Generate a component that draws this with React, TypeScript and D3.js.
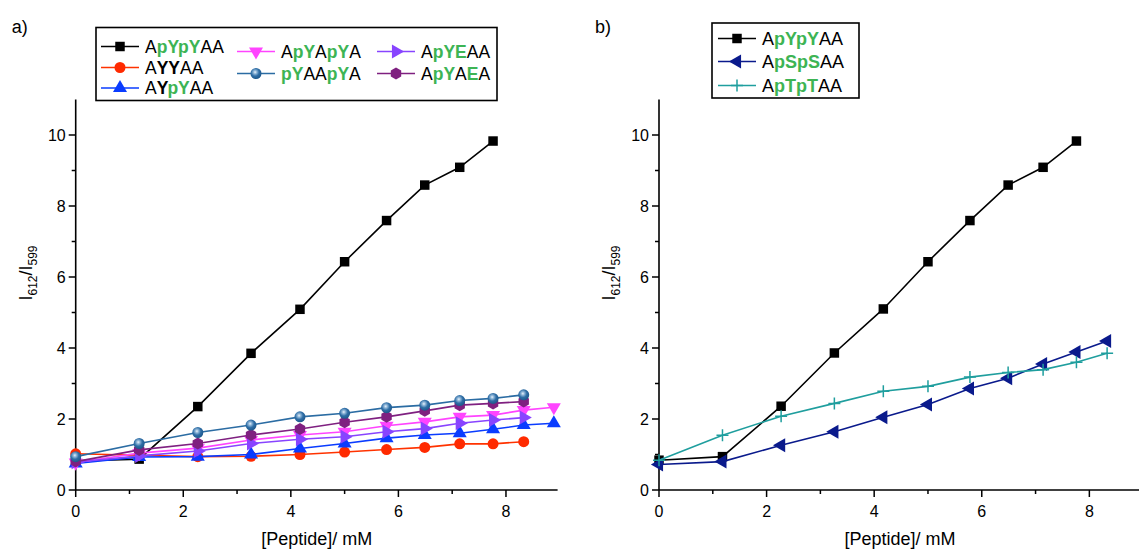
import React from "react";
import * as d3 from "d3";

// ---------- DATA ----------
const X_CONC = [0, 1.18, 2.27, 3.26, 4.17, 5.0, 5.78, 6.49, 7.14, 7.76, 8.33, 8.89];
const X_TICKS = [0, 2, 4, 6, 8];
const Y_TICKS = [0, 2, 4, 6, 8, 10];

const A_APYPYAA = [0.82, 0.87, 2.35, 3.85, 5.09, 6.43, 7.59, 8.59, 9.09, 9.83];
const A_AYYAA = [1.02, 0.98, 0.94, 0.95, 1.0, 1.07, 1.14, 1.2, 1.3, 1.3, 1.36];
const A_AYPYAA = [0.75, 0.93, 0.94, 1.0, 1.17, 1.31, 1.46, 1.55, 1.6, 1.71, 1.83, 1.88];
const A_APYAPYA = [0.77, 1.04, 1.18, 1.41, 1.55, 1.64, 1.81, 1.92, 2.06, 2.11, 2.25, 2.33];
const A_PYAAPYA = [0.94, 1.31, 1.62, 1.83, 2.06, 2.16, 2.32, 2.39, 2.52, 2.58, 2.68];
const A_APYEAA = [0.78, 0.96, 1.1, 1.31, 1.43, 1.5, 1.64, 1.73, 1.88, 1.97, 2.04];
const A_APYAEA = [0.8, 1.13, 1.31, 1.55, 1.72, 1.91, 2.06, 2.23, 2.39, 2.44, 2.49];

const B_APYPYAA = [0.84, 0.94, 2.36, 3.86, 5.1, 6.43, 7.59, 8.59, 9.09, 9.83];
const B_APSPSAA = [0.72, 0.8, 1.26, 1.64, 2.05, 2.41, 2.86, 3.15, 3.55, 3.89, 4.2];
const B_APTPTAA = [0.84, 1.54, 2.08, 2.44, 2.78, 2.92, 3.18, 3.31, 3.39, 3.6, 3.85];

// Label segments: [text, style] style: n normal, b bold black, g bold green
type Seg = [string, "n" | "b" | "g"];
const LBL_APYPYAA: Seg[] = [["A", "n"], ["pYpY", "g"], ["AA", "n"]];
const LBL_AYYAA: Seg[] = [["A", "n"], ["YY", "b"], ["AA", "n"]];
const LBL_AYPYAA: Seg[] = [["A", "n"], ["Y", "b"], ["pY", "g"], ["AA", "n"]];
const LBL_APYAPYA: Seg[] = [["A", "n"], ["pY", "g"], ["A", "n"], ["pY", "g"], ["A", "n"]];
const LBL_PYAAPYA: Seg[] = [["pY", "g"], ["AA", "n"], ["pY", "g"], ["A", "n"]];
const LBL_APYEAA: Seg[] = [["A", "n"], ["pYE", "g"], ["AA", "n"]];
const LBL_APYAEA: Seg[] = [["A", "n"], ["pY", "g"], ["A", "n"], ["E", "g"], ["A", "n"]];
const LBL_APSPSAA: Seg[] = [["A", "n"], ["pSpS", "g"], ["AA", "n"]];
const LBL_APTPTAA: Seg[] = [["A", "n"], ["pTpT", "g"], ["AA", "n"]];

const GREEN = "#3db454";
const FONT = "'Liberation Sans', Arial, sans-serif";

type Shape = "square" | "circle" | "up" | "down" | "right" | "left" | "hex" | "plus" | "ball";

interface Series {
  values: number[];
  color: string;
  fill: string;
  shape: Shape;
  label: Seg[];
}

const SERIES_A: Series[] = [
  { values: A_APYPYAA, color: "#000000", fill: "#000000", shape: "square", label: LBL_APYPYAA },
  { values: A_AYYAA, color: "#ff3300", fill: "#ff2a00", shape: "circle", label: LBL_AYYAA },
  { values: A_AYPYAA, color: "#0a3cff", fill: "#0a3cff", shape: "up", label: LBL_AYPYAA },
  { values: A_APYAPYA, color: "#ff44ff", fill: "#ff44ff", shape: "down", label: LBL_APYAPYA },
  { values: A_APYEAA, color: "#8844ff", fill: "#8844ff", shape: "right", label: LBL_APYEAA },
  { values: A_APYAEA, color: "#7f2080", fill: "#7f2080", shape: "hex", label: LBL_APYAEA },
  { values: A_PYAAPYA, color: "#2b6ca3", fill: "url(#ball)", shape: "ball", label: LBL_PYAAPYA },
];

const SERIES_B: Series[] = [
  { values: B_APYPYAA, color: "#000000", fill: "#000000", shape: "square", label: LBL_APYPYAA },
  { values: B_APSPSAA, color: "#0a1a8c", fill: "#0a1a8c", shape: "left", label: LBL_APSPSAA },
  { values: B_APTPTAA, color: "#1f9e9e", fill: "none", shape: "plus", label: LBL_APTPTAA },
];

function markerPath(shape: Shape): string {
  switch (shape) {
    case "square":
      return d3.symbol(d3.symbolSquare, 90)()!;
    case "circle":
    case "ball":
      return d3.symbol(d3.symbolCircle, 95)()!;
    case "up":
    case "down":
    case "right":
    case "left":
      return d3.symbol(d3.symbolTriangle, 85)()!;
    case "hex": {
      const r = 6;
      const pts = d3.range(6).map((i) => {
        const a = (Math.PI / 3) * i + Math.PI / 6;
        return [r * Math.cos(a), r * Math.sin(a)];
      });
      return "M" + pts.map((p) => p.join(",")).join("L") + "Z";
    }
    case "plus":
      return "M-6,0H6M0,-6V6";
  }
}

function rot(shape: Shape): number {
  if (shape === "down") return 180;
  if (shape === "right") return 90;
  if (shape === "left") return -90;
  return 0;
}

function Marker({ s, x, y }: { s: Series; x: number; y: number }) {
  const plus = s.shape === "plus";
  return (
    <path
      d={markerPath(s.shape)}
      transform={`translate(${x},${y}) rotate(${rot(s.shape)})`}
      fill={plus ? "none" : s.fill}
      stroke={plus ? s.color : "none"}
      strokeWidth={plus ? 1.5 : 0}
    />
  );
}

function Label({ segs, x, y, size }: { segs: Seg[]; x: number; y: number; size: number }) {
  return (
    <text x={x} y={y} fontFamily={FONT} fontSize={size} dominantBaseline="central">
      {segs.map(([t, st], i) => (
        <tspan
          key={i}
          fill={st === "g" ? GREEN : "#000"}
          fontWeight={st === "n" ? "normal" : "bold"}
        >
          {t}
        </tspan>
      ))}
    </text>
  );
}

interface PanelProps {
  series: Series[];
  x0: number;
  x1: number;
  title: string;
}

const Y_TOP = 99.5;
const Y_BOT = 490;

function Panel({ series, x0, x1, title }: PanelProps) {
  const xs = d3.scaleLinear().domain([0, 8.96]).range([x0, x1]);
  const ys = d3.scaleLinear().domain([0, 11]).range([Y_BOT, Y_TOP]);
  const line = d3
    .line<number>()
    .x((_, i) => xs(X_CONC[i]))
    .y((d) => ys(d));
  const xMinor = d3.range(1, 9, 2);
  const yMinor = d3.range(1, 11, 2);
  return (
    <g>
      <text x={x0 - 64} y={33} fontFamily={FONT} fontSize={18}>
        {title}
      </text>
      {/* axes */}
      <line x1={x0} x2={x0} y1={Y_TOP} y2={Y_BOT} stroke="#000" strokeWidth={1.6} />
      <line x1={x0} x2={x1} y1={Y_BOT} y2={Y_BOT} stroke="#000" strokeWidth={1.6} />
      {X_TICKS.map((t) => (
        <g key={"xt" + t}>
          <line x1={xs(t)} x2={xs(t)} y1={Y_BOT} y2={Y_BOT + 7} stroke="#000" strokeWidth={1.5} />
          <text x={xs(t)} y={511} textAnchor="middle" dominantBaseline="central" fontFamily={FONT} fontSize={16}>
            {t}
          </text>
        </g>
      ))}
      {xMinor.map((t) => (
        <line key={"xm" + t} x1={xs(t)} x2={xs(t)} y1={Y_BOT} y2={Y_BOT + 4} stroke="#000" strokeWidth={1.5} />
      ))}
      {Y_TICKS.map((t) => (
        <g key={"yt" + t}>
          <line x1={x0 - 7} x2={x0} y1={ys(t)} y2={ys(t)} stroke="#000" strokeWidth={1.5} />
          <text x={x0 - 10} y={ys(t)} textAnchor="end" dominantBaseline="central" fontFamily={FONT} fontSize={16}>
            {t}
          </text>
        </g>
      ))}
      {yMinor.map((t) => (
        <line key={"ym" + t} x1={x0 - 4} x2={x0} y1={ys(t)} y2={ys(t)} stroke="#000" strokeWidth={1.5} />
      ))}
      {/* axis titles */}
      <text
        x={(x0 + x1) / 2}
        y={545}
        textAnchor="middle"
        fontFamily={FONT}
        fontSize={18}
      >
        [Peptide]/ mM
      </text>
      <text
        transform={`translate(${x0 - 44},${273}) rotate(-90)`}
        textAnchor="middle"
        fontFamily={FONT}
        fontSize={18}
      >
        I<tspan fontSize={12} dy={5}>612</tspan>
        <tspan dy={-5}>/I</tspan>
        <tspan fontSize={12} dy={5}>599</tspan>
      </text>
      {/* data */}
      {series.map((s, si) => (
        <g key={"s" + si}>
          <path d={line(s.values)!} fill="none" stroke={s.color} strokeWidth={1.6} />
          {s.values.map((v, i) => (
            <Marker key={i} s={s} x={xs(X_CONC[i])} y={ys(v)} />
          ))}
        </g>
      ))}
    </g>
  );
}

function LegendItem({ s, x, y, size }: { s: Series; x: number; y: number; size: number }) {
  return (
    <g>
      <line x1={x} x2={x + 38} y1={y} y2={y} stroke={s.color} strokeWidth={1.6} />
      <Marker s={s} x={x + 19} y={y} />
      <Label segs={s.label} x={x + 44} y={y} size={size} />
    </g>
  );
}

export default function App() {
  const [a0, a1, a2, a3, a4, a5, a6] = SERIES_A;
  return (
    <div style={{ position: "absolute", left: 0, top: 0 }}>
      <svg width={1139} height={550} style={{ display: "block", background: "#fff" }}>
        <defs>
          <radialGradient id="ball" cx="0.42" cy="0.38" r="0.6">
            <stop offset="0" stopColor="#e8f2fb" />
            <stop offset="0.25" stopColor="#8fb6d8" />
            <stop offset="0.6" stopColor="#2f6ea6" />
            <stop offset="1" stopColor="#1f5a8e" />
          </radialGradient>
        </defs>
        <Panel series={SERIES_A} x0={75.7} x1={557.6} title="a)" />
        <Panel series={SERIES_B} x0={659} x1={1141} title="b)" />

        {/* legend a */}
        <rect x={96} y={27.5} width={401} height={73} fill="#fff" stroke="#000" strokeWidth={1.6} />
        <LegendItem s={a0} x={101} y={46.5} size={17.5} />
        <LegendItem s={a1} x={101} y={67.5} size={17.5} />
        <LegendItem s={a2} x={101} y={88} size={17.5} />
        <LegendItem s={a3} x={237} y={51.5} size={17.5} />
        <LegendItem s={a6} x={237} y={73.5} size={17.5} />
        <LegendItem s={a4} x={377} y={51.5} size={17.5} />
        <LegendItem s={a5} x={377} y={73.5} size={17.5} />

        {/* legend b */}
        <rect x={712} y={23} width={147} height={75} fill="#fff" stroke="#000" strokeWidth={1.6} />
        <LegendItem s={SERIES_B[0]} x={718} y={38.5} size={18} />
        <LegendItem s={SERIES_B[1]} x={718} y={61.5} size={18} />
        <LegendItem s={SERIES_B[2]} x={718} y={85.5} size={18} />
      </svg>
    </div>
  );
}
